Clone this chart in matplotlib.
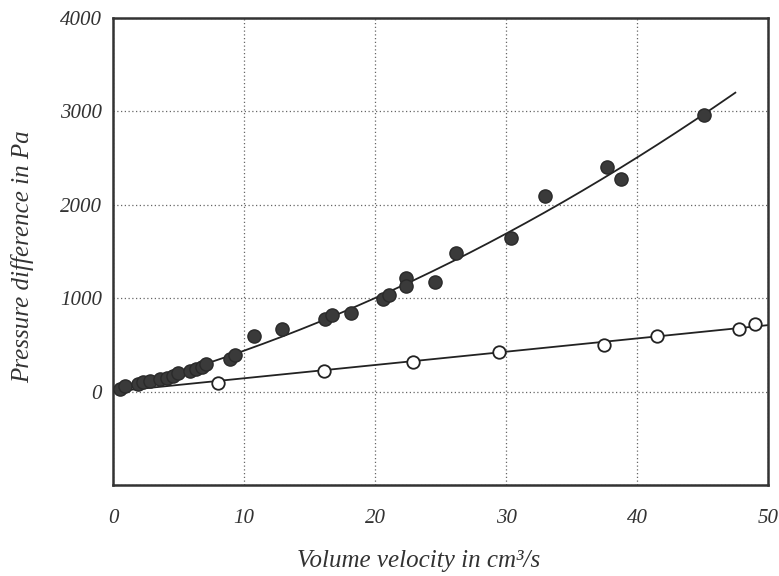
import numpy as np
import matplotlib.pyplot as plt

# filled circles: measured pressure drop
q_full = [0.5, 0.9, 1.9, 2.3, 2.8, 3.6, 4.1, 4.6, 5.0, 5.9, 6.3, 6.8, 7.1,
          8.9, 9.3, 10.8, 12.9, 16.2, 16.7, 18.2, 20.6, 21.1, 22.4, 22.4,
          24.6, 26.2, 30.4, 33.0, 37.7, 38.8, 45.1]
p_full = [30, 60, 85, 100, 110, 130, 150, 170, 200, 215, 240, 265, 290,
          350, 390, 600, 670, 780, 820, 840, 990, 1030, 1220, 1130,
          1170, 1480, 1640, 2090, 2400, 2280, 2960]

# open circles
q_open = [8.0, 16.1, 22.9, 29.5, 37.5, 41.5, 47.8, 49.0]
p_open = [95, 225, 320, 420, 500, 600, 675, 725]

xticks = [0, 10, 20, 30, 40, 50]
yticks = [-1000, 0, 1000, 2000, 3000, 4000]
ylabels = ["", "0", "1000", "2000", "3000", "4000"]

plt.rcParams["font.family"] = "Liberation Serif"
plt.rcParams["font.style"] = "italic"

fig = plt.figure(figsize=(7.79, 5.76), dpi=100)
ax = fig.add_axes([0.145, 0.158, 0.841, 0.811])

# least squares fits through the origin: p = a*q + b*q^2 and p = c*q
qf = np.array(q_full)
A = np.column_stack([qf, qf ** 2])
a, b = np.linalg.lstsq(A, np.array(p_full), rcond=None)[0]
qo = np.array(q_open)
c = np.sum(qo * np.array(p_open)) / np.sum(qo ** 2)

xs = np.linspace(0, 47.5, 200)
ax.plot(xs, a * xs + b * xs ** 2, color="#222222", lw=1.3, zorder=2)
xo = np.linspace(0, 50, 2)
ax.plot(xo, c * xo, color="#222222", lw=1.3, zorder=2)

ax.plot(q_full, p_full, "o", ms=9.5, color="#3a3a3a", mec="#2a2a2a", zorder=3)
ax.plot(q_open, p_open, "o", ms=9, mfc="white", mec="#222222", mew=1.3, zorder=3)

ax.set_xlim(0, 50)
ax.set_ylim(-1000, 4000)
ax.set_xticks(xticks)
ax.set_yticks(yticks)
ax.set_yticklabels(ylabels)
ax.tick_params(length=0, labelsize=15, colors="#333333")
ax.tick_params(axis="x", pad=17)
ax.tick_params(axis="y", pad=8)
ax.grid(True, ls=(0, (1, 2)), lw=0.9, color="#666666")
for s in ax.spines.values():
    s.set_linewidth(1.8)
    s.set_color("#333333")

ax.set_xlabel("Volume velocity in cm³/s", fontsize=18, color="#333333")
ax.set_ylabel("Pressure difference in Pa", fontsize=18, color="#333333")
ax.xaxis.set_label_coords(0.467, -0.14)
ax.yaxis.set_label_coords(-0.12, 0.488)

fig.savefig("out.png", dpi=100)
